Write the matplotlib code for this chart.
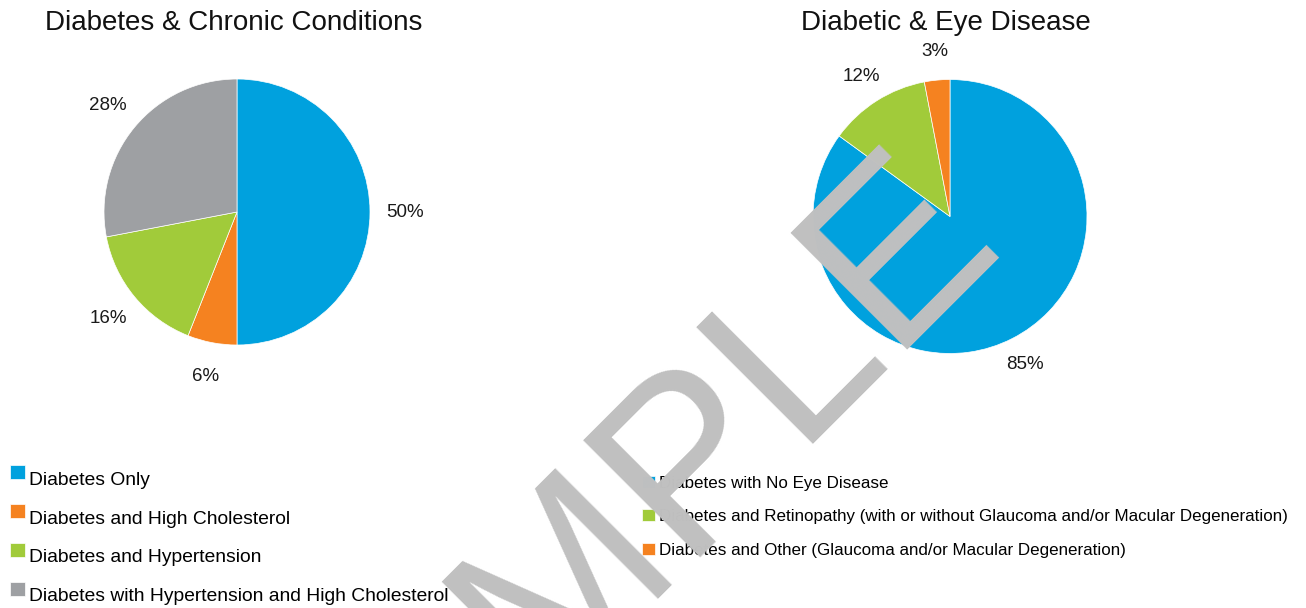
import numpy as np

import matplotlib

matplotlib.use("Agg")
import matplotlib.pyplot as plt
from matplotlib.font_manager import FontProperties
from matplotlib.legend_handler import HandlerPatch
from matplotlib.patches import Rectangle
from matplotlib.textpath import TextPath

plt.rcParams["font.family"] = ["Liberation Sans", "DejaVu Sans"]

W, H = 1306, 608
DPI = 100

# chronic conditions breakdown
chronic_labels = [
    "Diabetes Only",
    "Diabetes and High Cholesterol",
    "Diabetes and Hypertension",
    "Diabetes with Hypertension and High Cholesterol",
]
chronic_values = [50, 6, 16, 28]
chronic_colors = ["#00a1de", "#f58220", "#a1cb3a", "#9ea0a3"]

# eye disease breakdown
eye_labels = [
    "Diabetes with No Eye Disease",
    "Diabetes and Retinopathy (with or without Glaucoma and/or Macular Degeneration)",
    "Diabetes and Other (Glaucoma and/or Macular Degeneration)",
]
eye_values = [85, 12, 3]
eye_colors = ["#00a1de", "#a1cb3a", "#f58220"]

WATERMARK = "SAMPLE"


def px_axes(fig, cx, cy, r):
    """Square axes centred on pixel (cx, cy) with radius r (top-left origin)."""
    return fig.add_axes([(cx - r) / W, 1 - (cy + r) / H, 2 * r / W, 2 * r / H])


def draw_pie(ax, values, colors, pctdist):
    wedges, _, _ = ax.pie(
        values,
        colors=colors,
        startangle=90,
        counterclock=False,
        autopct=lambda p: "%.0f%%" % p,
        pctdistance=pctdist,
        wedgeprops=dict(edgecolor="white", linewidth=0.5),
        textprops=dict(fontsize=13.5, color="#1a1a1a"),
    )
    ax.set_xlim(-1, 1)
    ax.set_ylim(-1, 1)
    return wedges


def raised_square(lift):
    # legend swatch sitting a little above the text's mid-line
    def make(legend, orig_handle, xdescent, ydescent, width, height, fontsize):
        return Rectangle((-xdescent, -ydescent + lift * fontsize), width, height,
                         linewidth=0)
    return HandlerPatch(patch_func=make)


def add_watermark(fig, text, corner_px, size_pt, angle=45):
    """Diagonal stamp; the last letter's lower-left corner lands on corner_px."""
    fp = FontProperties(family="Liberation Sans")
    full = TextPath((0, 0), text, size=1, prop=fp).get_extents()
    last = TextPath((0, 0), text[-1], size=1, prop=fp).get_extents()
    offset_px = (full.x1 - last.width) * size_pt * DPI / 72
    a = np.radians(angle)
    x0 = corner_px[0] - offset_px * np.cos(a)
    y0 = corner_px[1] + offset_px * np.sin(a)
    fig.text(x0 / W, 1 - y0 / H, text, rotation=angle, rotation_mode="anchor",
             ha="left", va="baseline", fontsize=size_pt, color="#c0c0c0",
             fontproperties=fp, zorder=10)


fig = plt.figure(figsize=(W / DPI, H / DPI), dpi=DPI)
fig.patch.set_facecolor("white")

ax1 = px_axes(fig, 237, 212, 133)
w1 = draw_pie(ax1, chronic_values, chronic_colors, 1.26)
ax2 = px_axes(fig, 950, 216.5, 137)
w2 = draw_pie(ax2, eye_values, eye_colors, 1.21)

fig.text(234 / W, 1 - 30 / H, "Diabetes & Chronic Conditions",
         ha="center", va="baseline", fontsize=20, color="#111111")
fig.text(946 / W, 1 - 30 / H, "Diabetic & Eye Disease",
         ha="center", va="baseline", fontsize=20, color="#111111")

fig.legend(
    w1, chronic_labels,
    loc="upper left", bbox_to_anchor=(10 / W, 1 - 471 / H),
    frameon=False, fontsize=13.85, borderpad=0, borderaxespad=0,
    handlelength=0.78, handleheight=0.76, handletextpad=0.2,
    labelspacing=1.09,
    handler_map={w: raised_square(0.3) for w in w1},
)
fig.legend(
    w2, eye_labels,
    loc="upper left", bbox_to_anchor=(642 / W, 1 - 476 / H),
    frameon=False, fontsize=12.25, borderpad=0, borderaxespad=0,
    handlelength=0.76, handleheight=0.71, handletextpad=0.25,
    labelspacing=1.08,
    handler_map={w: raised_square(0.0) for w in w2},
)

add_watermark(fig, WATERMARK, corner_px=(905, 341), size_pt=172.8)

fig.savefig("out.png", dpi=DPI, facecolor="white")
